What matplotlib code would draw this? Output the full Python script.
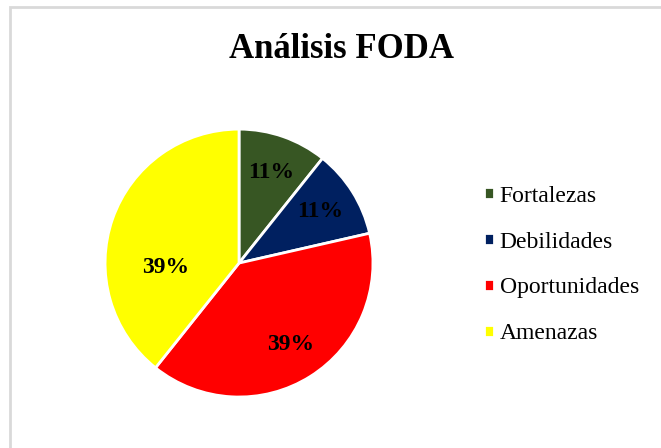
import matplotlib.pyplot as plt
from matplotlib.patches import Rectangle

categorias = ["Fortalezas", "Debilidades", "Oportunidades", "Amenazas"]
valores = [3, 3, 11, 11]
colores = ["#375623", "#002060", "#FF0000", "#FFFF00"]

plt.rcParams['font.family'] = ['Liberation Serif', 'DejaVu Serif']

fig = plt.figure(figsize=(6.61, 4.48), dpi=100)
fig.patches.append(Rectangle((10 / 661, -0.1), 1.2, 1 - 7 / 448 + 0.1,
                             transform=fig.transFigure, fill=False,
                             edgecolor="#d9d9d9", linewidth=2))

ax = fig.add_axes([0.1589, 0.1138, 0.4054, 0.598])
wedges, textos, pcts = ax.pie(valores, colors=colores, startangle=90,
                              counterclock=False, autopct="%1.0f%%",
                              pctdistance=0.72,
                              wedgeprops=dict(edgecolor="white", linewidth=2),
                              textprops=dict(fontsize=17, fontweight="bold",
                                             color="black"))
# etiqueta de Amenazas un poco mas adentro, como en el original
pcts[3].set_position((-0.55, -0.03))
ax.set_xlim(-1, 1)
ax.set_ylim(-1, 1)
ax.set_aspect("equal")

fig.text(341 / 661, 1 - 50 / 448, "Análisis FODA", ha="center", va="center",
         fontsize=25, fontweight="bold")

leg = fig.legend(wedges, categorias, loc="center left",
                 bbox_to_anchor=(463 / 661, 1 - 265 / 448), frameon=False,
                 fontsize=17, handlelength=0.4, handleheight=0.4,
                 handletextpad=0.25, labelspacing=1.05)

fig.savefig("out.png", dpi=100)
